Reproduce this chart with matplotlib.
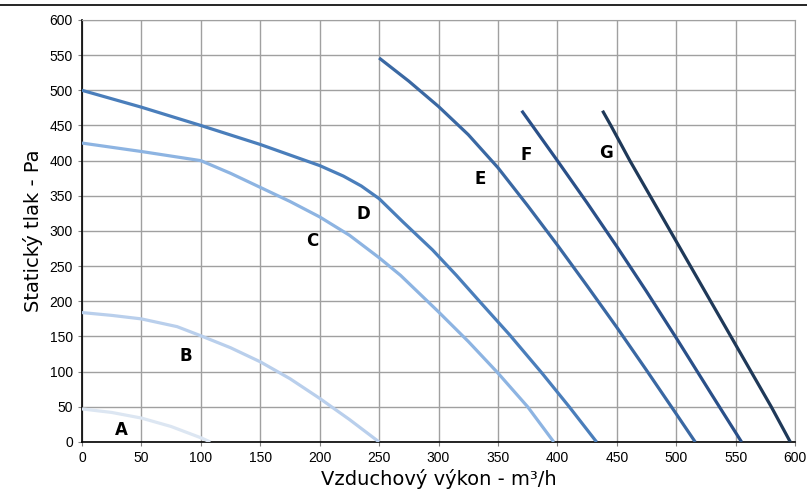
import matplotlib
matplotlib.use("Agg")
import matplotlib.pyplot as plt
import numpy as np

# krivky ventilatoru A-G (prutok m3/h, tlak Pa)
a_x = [0, 25, 50, 75, 100, 108]
a_y = [47, 42, 34, 22, 6, 0]
b_x = [0, 25, 50, 80, 100, 125, 150, 175, 200, 225, 250]
b_y = [184, 180, 175, 164, 151, 134, 114, 90, 62, 32, 0]
c_x = [0, 50, 100, 125, 150, 175, 200, 225, 250, 268, 300, 325, 350, 375, 397]
c_y = [425, 413, 400, 382, 362, 342, 320, 294, 262, 237, 185, 143, 98, 50, 0]
d_x = [0, 50, 100, 150, 200, 220, 235, 250, 270, 295, 315, 335, 360, 387, 410, 433]
d_y = [500, 476, 450, 423, 393, 378, 364, 346, 313, 273, 237, 199, 152, 98, 50, 0]
e_x = [250, 275, 300, 325, 350, 375, 400, 425, 450, 475, 500, 516]
e_y = [546, 513, 477, 437, 390, 336, 280, 222, 163, 102, 40, 0]
f_x = [370, 400, 425, 450, 475, 500, 530, 555]
f_y = [471, 400, 340, 278, 214, 148, 67, 0]
g_x = [438, 445, 461, 478, 495, 512, 529, 546, 563, 580, 596]
g_y = [471, 450, 400, 350, 300, 250, 200, 150, 100, 50, 0]

curves = [(a_x, a_y), (b_x, b_y), (c_x, c_y), (d_x, d_y),
          (e_x, e_y), (f_x, f_y), (g_x, g_y)]
colors = ["#dce6f2", "#b9cfec", "#8db4e2", "#4a7ebb", "#3a68a3", "#2a5089", "#1f3959"]
labels = ["A", "B", "C", "D", "E", "F", "G"]
label_pos = [(33, 17), (87, 122), (194, 286), (237, 324), (335, 374), (374, 408), (441, 411)]

x_ticks = list(range(0, 601, 50))
y_ticks = list(range(0, 601, 50))

fig = plt.figure(figsize=(8.07, 4.97), dpi=100)
ax = fig.add_axes([0.1016, 0.1107, 0.8836, 0.8491])

for (xs, ys), col in zip(curves, colors):
    ax.plot(xs, ys, color=col, lw=2.3, solid_capstyle="butt", solid_joinstyle="round", zorder=3)

for lab, (lx, ly) in zip(labels, label_pos):
    ax.text(lx, ly, lab, fontsize=12, fontweight="bold", ha="center", va="center",
            family="DejaVu Sans", zorder=4)

ax.set_xlim(0, 600)
ax.set_ylim(0, 600)
ax.set_xticks(x_ticks)
ax.set_yticks(y_ticks)
ax.grid(True, color="#a0a0a0", lw=1.0, zorder=0)
ax.tick_params(labelsize=10, length=3, color="#808080")
for t in ax.get_xticklabels() + ax.get_yticklabels():
    t.set_family("Liberation Sans")
for s in ["top", "right"]:
    ax.spines[s].set_color("#a0a0a0")
for s in ["left", "bottom"]:
    ax.spines[s].set_color("black")
    ax.spines[s].set_linewidth(1.2)

ax.set_xlabel("Vzduchový výkon - m³/h", fontsize=14, family="DejaVu Sans", labelpad=3)
ax.set_ylabel("Statický tlak - Pa", fontsize=14, family="DejaVu Sans", labelpad=5)

# cara nahore pres celou sirku
fig.add_artist(plt.Line2D([0, 1], [0.990, 0.990], color="black", lw=1.2))

fig.savefig("out.png", dpi=100)
